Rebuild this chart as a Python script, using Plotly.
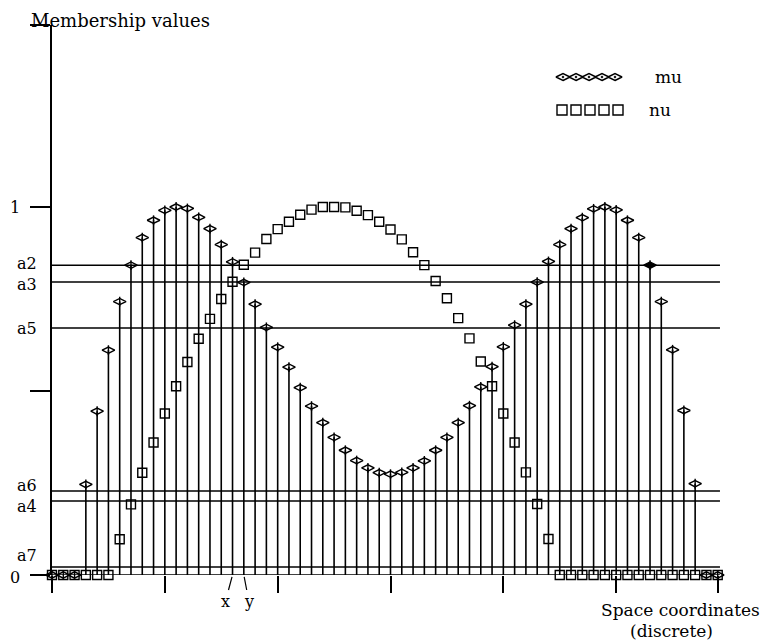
import plotly.graph_objects as go

# ---------------- data ----------------
space_index = list(range(60))

mu = [0, 0, 0,
      0.246, 0.445, 0.611, 0.743, 0.842, 0.917, 0.964, 0.991, 1.0, 0.996,
      0.972, 0.941, 0.898, 0.851, 0.795, 0.736, 0.673, 0.619, 0.565, 0.509,
      0.459, 0.414, 0.374, 0.339, 0.311, 0.291, 0.278, 0.274, 0.279, 0.291,
      0.310, 0.339, 0.374, 0.414, 0.460, 0.511, 0.566, 0.620, 0.679, 0.736,
      0.796, 0.852, 0.898, 0.941, 0.971, 0.995, 1.0, 0.992, 0.964, 0.917,
      0.842, 0.743, 0.612, 0.447, 0.248,
      0, 0]

nu = [0, 0, 0, 0, 0, 0,
      0.097, 0.192, 0.278, 0.360, 0.439, 0.513, 0.579, 0.642, 0.696, 0.750,
      0.797, 0.843, 0.876, 0.913, 0.940, 0.960, 0.979, 0.993, 1.0, 1.0,
      0.999, 0.990, 0.978, 0.960, 0.939, 0.912, 0.877, 0.842, 0.799, 0.752,
      0.698, 0.643, 0.580, 0.513, 0.439, 0.360, 0.279, 0.193, 0.098,
      0, 0, 0, 0, 0, 0, 0, 0, 0, 0, 0, 0, 0, 0, 0]

level_names = ["a2", "a3", "a5", "a6", "a4", "a7"]
level_values = [0.842, 0.796, 0.671, 0.228, 0.201, 0.022]

y_tick_values = [0, 0.5, 1]
y_tick_labels = ["0", "", "1"]
x_tick_values = [0, 10, 20, 30, 40, 50, 59]

highlight_index = 53          # mu point marked with a filled symbol
x_label_index, y_label_index = 16, 17

# ---------------- layout constants ----------------
PAGE = 8                      # default body margin of the html page
W, H = 770 - PAGE, 644 - PAGE
ML, MR, MT = 52 - PAGE, 41, 25 - PAGE
PW = W - ML - MR
PH = 550
MB = H - MT - PH
X_RANGE = [0, 60]
PX_PER_UNIT_Y = 368.0
Y_TOP = PH / PX_PER_UNIT_Y
LINE_END = 59.2
FONT = "DejaVu Serif"
INK = "black"


def px(xp):
    """page pixel x -> paper fraction"""
    return (xp - PAGE - ML) / PW


def py(yp):
    """page pixel y -> paper fraction"""
    return (MT + PH - (yp - PAGE)) / PH


fig = go.Figure()

# horizontal level lines + baseline
for v in level_values + [0]:
    fig.add_shape(type="line", x0=0, x1=LINE_END, y0=v, y1=v,
                  xref="x", yref="y", line=dict(color=INK, width=1.5), layer="below")

# nu squares
fig.add_trace(go.Scatter(
    x=space_index, y=nu, mode="markers", cliponaxis=False, showlegend=False,
    marker=dict(symbol="square-open", size=9, color=INK, line=dict(width=1.4, color=INK)),
))

# mu stems + diamonds
symbols = ["diamond-wide" if i == highlight_index else "diamond-wide-open" for i in space_index]
fig.add_trace(go.Scatter(
    x=space_index, y=mu, mode="markers", cliponaxis=False, showlegend=False,
    marker=dict(symbol=symbols, size=9, color=INK, line=dict(width=1.4, color=INK)),
    error_y=dict(type="data", symmetric=False, array=[0] * len(mu), arrayminus=mu,
                 thickness=1.6, width=0, color=INK),
))
fig.add_trace(go.Scatter(
    x=space_index, y=mu, mode="markers", cliponaxis=False, showlegend=False,
    marker=dict(symbol="line-ns-open", size=7, color=INK, line=dict(width=1.4, color=INK)),
))

# legend glyphs (page-pixel coordinates on overlay axes)
leg_mu_x = [563 + 13 * k for k in range(5)]
leg_nu_x = [562 + 14 * k for k in range(5)]
fig.add_trace(go.Scatter(
    x=leg_mu_x, y=[77] * 5, xaxis="x2", yaxis="y2", mode="markers", cliponaxis=False,
    showlegend=False,
    marker=dict(symbol="diamond-wide-open-dot", size=10, color=INK, line=dict(width=1.4, color=INK)),
))
fig.add_trace(go.Scatter(
    x=leg_nu_x, y=[110] * 5, xaxis="x2", yaxis="y2", mode="markers", cliponaxis=False,
    showlegend=False,
    marker=dict(symbol="square-open", size=10, color=INK, line=dict(width=1.4, color=INK)),
))

font = dict(family=FONT, size=17, color=INK)
font_t = dict(family=FONT, size=18, color=INK)
font_s = dict(family=FONT, size=16, color=INK)
ann = []
ann.append(dict(text="mu", x=px(653), y=py(77), xref="paper", yref="paper", xanchor="left",
                yanchor="middle", showarrow=False, font=font))
ann.append(dict(text="nu", x=px(647), y=py(110), xref="paper", yref="paper", xanchor="left",
                yanchor="middle", showarrow=False, font=font))
ann.append(dict(text="Membership values", x=px(120), y=py(20), xref="paper", yref="paper",
                xanchor="center", yanchor="middle", showarrow=False, font=font_t))
ann.append(dict(text="Space coordinates", x=px(680), y=py(610), xref="paper", yref="paper",
                xanchor="center", yanchor="middle", showarrow=False, font=font))
ann.append(dict(text="(discrete)", x=px(671), y=py(631), xref="paper", yref="paper",
                xanchor="center", yanchor="middle", showarrow=False, font=font))

# y tick labels as annotations so they can be nudged apart from the level labels
tick_label_right = {"0": 22, "1": 22}
tick_label_shift = {"0": -2, "1": 0}
for v, t in zip(y_tick_values, y_tick_labels):
    if t:
        ann.append(dict(text=t, x=px(tick_label_right[t]), y=v, xref="paper", yref="y",
                        xanchor="right", yanchor="middle", yshift=tick_label_shift[t],
                        showarrow=False, font=font_s))

shifts = {"a2": 2, "a3": -2, "a6": 6, "a4": -5, "a7": 11}
for name, v in zip(level_names, level_values):
    ann.append(dict(text=name, x=px(39), y=v, xref="paper", yref="y", xanchor="right",
                    yanchor="middle", yshift=shifts.get(name, 0), showarrow=False, font=font_s))
ann.append(dict(text="x", x=space_index[x_label_index], y=0, xref="x", yref="y",
                ax=-7, ay=26, showarrow=True, arrowhead=0, arrowwidth=1.2,
                arrowcolor=INK, standoff=2, font=font_s))
ann.append(dict(text="y", x=space_index[y_label_index], y=0, xref="x", yref="y",
                ax=5, ay=26, showarrow=True, arrowhead=0, arrowwidth=1.2,
                arrowcolor=INK, standoff=2, font=font_s))

fig.update_layout(
    width=W, height=H,
    margin=dict(l=ML, r=MR, t=MT, b=MB, pad=0, autoexpand=False),
    paper_bgcolor="white", plot_bgcolor="white",
    showlegend=False,
    annotations=ann,
    xaxis=dict(range=X_RANGE, showgrid=False, zeroline=False, showline=False,
               automargin=False,
               ticks="outside", ticklen=17, tickwidth=1.5, tickcolor=INK,
               tickvals=x_tick_values, showticklabels=False),
    yaxis=dict(range=[0, Y_TOP], showgrid=False, zeroline=False, automargin=False,
               showline=True, linewidth=1.5, linecolor=INK,
               ticks="outside", ticklen=20, tickwidth=1.5, tickcolor=INK,
               tickvals=y_tick_values + [Y_TOP], showticklabels=False),
    xaxis2=dict(range=[ML + PAGE, ML + PAGE + PW], overlaying="x", visible=False),
    yaxis2=dict(range=[MT + PAGE + PH, MT + PAGE], overlaying="y", visible=False),
)

fig.write_html("out.html")
